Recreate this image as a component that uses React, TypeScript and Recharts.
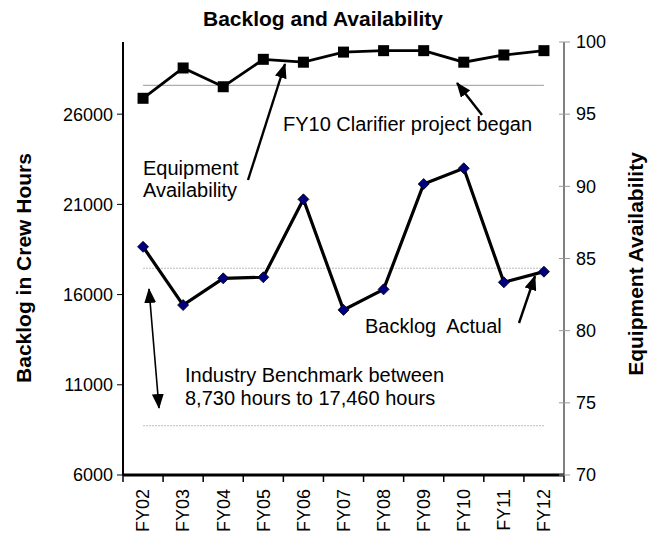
import React from "react";
import { ComposedChart, Line, XAxis, YAxis, ReferenceLine } from "recharts";

// data
const YEARS = ["FY02", "FY03", "FY04", "FY05", "FY06", "FY07", "FY08", "FY09", "FY10", "FY11", "FY12"];
const BACKLOG = [18650, 15420, 16900, 16960, 21280, 15150, 16290, 22130, 23000, 16680, 17270];
const AVAILABILITY = [96.1, 98.2, 96.9, 98.8, 98.6, 99.3, 99.4, 99.4, 98.6, 99.1, 99.4];
const BACKLOG_TICKS = [6000, 11000, 16000, 21000, 26000];
const AVAIL_TICKS = [70, 75, 80, 85, 90, 95, 100];
const BENCH_LOW = 8730;
const BENCH_HIGH = 17460;
const AVAIL_TARGET = 97;

const W = 660;
const H = 546;
const PLOT_LEFT = 123;
const PLOT_RIGHT = 564;
const PLOT_BOTTOM = 475;
const FONT = "Arial, 'Liberation Sans', sans-serif";

const data = YEARS.map((year, i) => ({ year, backlog: BACKLOG[i], availability: AVAILABILITY[i] }));
const band = (PLOT_RIGHT - PLOT_LEFT) / YEARS.length;

const XTick = (props: any) => {
  const { x, payload, index } = props;
  const ty = PLOT_BOTTOM + 14;
  return (
    <g>
      <line x1={x - band / 2} x2={x - band / 2} y1={PLOT_BOTTOM} y2={PLOT_BOTTOM + 7} stroke="#000" strokeWidth={1.5} />
      {index === YEARS.length - 1 && (
        <line x1={x + band / 2} x2={x + band / 2} y1={PLOT_BOTTOM} y2={PLOT_BOTTOM + 7} stroke="#000" strokeWidth={1.5} />
      )}
      <text x={x} y={ty} dy="0.35em" textAnchor="end" transform={`rotate(-90, ${x}, ${ty})`}
        fontFamily={FONT} fontSize={18} fill="#000">
        {payload.value}
      </text>
    </g>
  );
};

const RightTick = (props: any) => {
  const { y, payload } = props;
  return (
    <g>
      <line x1={PLOT_RIGHT - 5} x2={PLOT_RIGHT + 6} y1={y} y2={y} stroke="#999" />
      <text x={PLOT_RIGHT + 12} y={y} dy="0.35em" fontFamily={FONT} fontSize={18} fill="#000">
        {payload.value}
      </text>
    </g>
  );
};

const Square = (props: any) => {
  const { cx, cy, index } = props;
  return <rect key={`sq${index}`} x={cx - 5.5} y={cy - 5.5} width={11} height={11} fill="#000" />;
};

const Diamond = (props: any) => {
  const { cx, cy, index } = props;
  const r = 5.5;
  return (
    <polygon key={`dm${index}`} points={`${cx},${cy - r} ${cx + r},${cy} ${cx},${cy + r} ${cx - r},${cy}`}
      fill="#000080" stroke="#000" strokeWidth={0.8} />
  );
};

const Annotations = () => (
  <svg width={W} height={H} style={{ position: "absolute", left: 0, top: 0, pointerEvents: "none" }}
    fontFamily={FONT} fill="#000">
    <defs>
      <marker id="head" viewBox="0 0 15 12" refX="14" refY="6" markerWidth="15" markerHeight="12"
        markerUnits="userSpaceOnUse" orient="auto-start-reverse">
        <path d="M0,0 L15,6 L0,12 z" fill="#000" />
      </marker>
    </defs>
    <text x={323} y={26} textAnchor="middle" fontWeight="bold" fontSize={21}>Backlog and Availability</text>
    <text x={31} y={268} textAnchor="middle" fontWeight="bold" fontSize={21} transform="rotate(-90, 31, 268)">
      Backlog in Crew Hours
    </text>
    <text x={643} y={264} textAnchor="middle" fontWeight="bold" fontSize={21} transform="rotate(-90, 643, 264)">
      Equipment Availability
    </text>

    <text x={283} y={131} fontSize={20}>FY10 Clarifier project began</text>
    <line x1={482} y1={115} x2={457} y2={83} stroke="#000" strokeWidth={2.4} markerEnd="url(#head)" />

    <text x={143} y={175} fontSize={20}>Equipment</text>
    <text x={143} y={197} fontSize={20}>Availability</text>
    <line x1={248} y1={180} x2={285} y2={64} stroke="#000" strokeWidth={2.4} markerEnd="url(#head)" />

    <text x={365} y={333} fontSize={20} style={{ whiteSpace: "pre" }}>Backlog  Actual</text>
    <line x1={519} y1={323} x2={535} y2={276} stroke="#000" strokeWidth={2.4} markerEnd="url(#head)" />

    <text x={185} y={382} fontSize={20}>Industry Benchmark between</text>
    <text x={185} y={405} fontSize={20}>8,730 hours to 17,460 hours</text>
    <line x1={149} y1={289} x2={159} y2={408} stroke="#000" strokeWidth={1.6}
      markerStart="url(#head)" markerEnd="url(#head)" />
  </svg>
);

export default function App() {
  return (
    <div style={{ position: "absolute", left: 0, top: 0, width: W, height: H, background: "#fff" }}>
      <ComposedChart width={W} height={H} data={data} margin={{ top: 42, right: 0, bottom: 0, left: 0 }}>
        <XAxis dataKey="year" scale="band" height={H - PLOT_BOTTOM} tick={<XTick />} tickLine={false}
          axisLine={{ stroke: "#000", strokeWidth: 3 }} interval={0} />
        <YAxis yAxisId="left" orientation="left" width={PLOT_LEFT} domain={[6000, 30000]} ticks={BACKLOG_TICKS}
          allowDataOverflow tick={{ fill: "#000", fontSize: 18, fontFamily: FONT }} tickSize={6} tickMargin={4}
          tickLine={{ stroke: "#000" }} axisLine={{ stroke: "#000", strokeWidth: 2 }} />
        <YAxis yAxisId="right" orientation="right" width={W - PLOT_RIGHT} domain={[70, 100]} ticks={AVAIL_TICKS}
          tick={<RightTick />} tickLine={false} axisLine={{ stroke: "#000", strokeWidth: 1 }} />
        <ReferenceLine yAxisId="right" segment={[{ x: YEARS[0], y: AVAIL_TARGET }, { x: YEARS[YEARS.length - 1], y: AVAIL_TARGET }]}
          stroke="#999" strokeWidth={1} />
        <ReferenceLine yAxisId="left" segment={[{ x: YEARS[0], y: BENCH_HIGH }, { x: YEARS[YEARS.length - 1], y: BENCH_HIGH }]}
          stroke="#bbb" strokeWidth={1} strokeDasharray="2 1" />
        <ReferenceLine yAxisId="left" segment={[{ x: YEARS[0], y: BENCH_LOW }, { x: YEARS[YEARS.length - 1], y: BENCH_LOW }]}
          stroke="#bbb" strokeWidth={1} strokeDasharray="2 1" />
        <Line yAxisId="right" dataKey="availability" stroke="#000" strokeWidth={2.8} dot={Square}
          activeDot={false} isAnimationActive={false} />
        <Line yAxisId="left" dataKey="backlog" stroke="#000" strokeWidth={3.2} dot={Diamond}
          activeDot={false} isAnimationActive={false} />
      </ComposedChart>
      <Annotations />
    </div>
  );
}
